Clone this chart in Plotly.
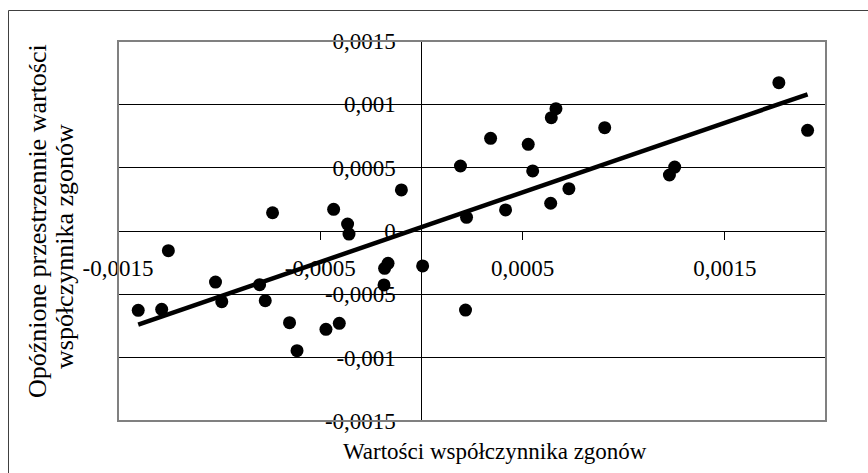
import numpy as np
import plotly.graph_objects as go

# Mortality coefficient values (x) and their spatially lagged values (y)
death_rate = [
    -0.001400, -0.001284, -0.001251, -0.001018, -0.000987, -0.000800,
    -0.000772, -0.000736, -0.000652, -0.000615, -0.000472, -0.000434,
    -0.000406, -0.000365, -0.000358, -0.000185, -0.000182, -0.000165,
    -0.000099, 0.000006, 0.000193, 0.000218, 0.000223, 0.000342,
    0.000416, 0.000528, 0.000550, 0.000639, 0.000642, 0.000665,
    0.000729, 0.000906, 0.001226, 0.001252, 0.001767, 0.001909,
]
lagged_rate = [
    -0.000626, -0.000618, -0.000155, -0.000403, -0.000558, -0.000424,
    -0.000550, 0.000144, -0.000724, -0.000945, -0.000776, 0.000171,
    -0.000729, 0.000055, -0.000024, -0.000426, -0.000295, -0.000255,
    0.000324, -0.000276, 0.000513, -0.000624, 0.000108, 0.000732,
    0.000166, 0.000684, 0.000474, 0.000219, 0.000895, 0.000966,
    0.000334, 0.000816, 0.000442, 0.000505, 0.001171, 0.000795,
]

x_ticks = [-0.0015, -0.0005, 0.0005, 0.0015]
x_tick_labels = ["-0,0015", "-0,0005", "0,0005", "0,0015"]
y_ticks = [-0.0015, -0.001, -0.0005, 0, 0.0005, 0.001, 0.0015]
y_tick_labels = ["-0,0015", "-0,001", "-0,0005", "0", "0,0005", "0,001", "0,0015"]

x_title = "Wartości współczynnika zgonów"
y_title_lines = ["Opóźnione przestrzennie wartości", "współczynnika zgonów"]

X_RANGE = [-0.0015, 0.002]
Y_RANGE = [-0.0015, 0.0015]

W, H = 868, 473
L, R, T, B = 118, 42, 41, 52
PW, PH = W - L - R, H - T - B

FONT = "Liberation Serif, Times New Roman, serif"
FS = 23
FS_YTITLE = 26


def px_x(p):
    return (p - L) / PW


def px_y(p):
    return (H - B - p) / PH


# Least-squares trend line over the data span
xs = np.array(death_rate)
ys = np.array(lagged_rate)
slope, intercept = np.polyfit(xs, ys, 1)
trend_x = [xs.min(), xs.max()]
trend_y = [slope * v + intercept for v in trend_x]

fig = go.Figure()
fig.add_trace(go.Scatter(
    x=death_rate, y=lagged_rate, mode="markers",
    marker=dict(color="black", size=13, line=dict(width=0)),
    showlegend=False, hoverinfo="x+y",
))
fig.add_trace(go.Scatter(
    x=trend_x, y=trend_y, mode="lines",
    line=dict(color="black", width=4.5),
    showlegend=False, hoverinfo="skip",
))

y_axis_pos = (0 - X_RANGE[0]) / (X_RANGE[1] - X_RANGE[0])
x_axis_pos = (0 - Y_RANGE[0]) / (Y_RANGE[1] - Y_RANGE[0])

fig.update_layout(
    width=W, height=H,
    margin=dict(l=L, r=R, t=T, b=B, pad=0),
    paper_bgcolor="white", plot_bgcolor="white",
    font=dict(family=FONT, size=FS, color="black"),
    xaxis=dict(
        range=X_RANGE, tickvals=x_ticks, ticktext=x_tick_labels,
        showgrid=False, zeroline=False,
        showline=True, linecolor="black", linewidth=1,
        ticks="outside", ticklen=8, tickwidth=1, tickcolor="black",
        anchor="free", position=x_axis_pos, ticklabelstandoff=8,
        tickfont=dict(family=FONT, size=FS, color="black"),
    ),
    yaxis=dict(
        range=Y_RANGE, tickvals=y_ticks, ticktext=y_tick_labels,
        showgrid=True, gridcolor="black", gridwidth=1, zeroline=False,
        showline=True, linecolor="black", linewidth=1,
        ticks="outside", ticklen=7, tickwidth=1, tickcolor="black",
        anchor="free", position=y_axis_pos, ticklabelstandoff=14,
        tickfont=dict(family=FONT, size=FS, color="black"),
    ),
    shapes=[
        # plot area frame
        dict(type="rect", xref="paper", yref="paper", x0=0, x1=1, y0=0, y1=1,
             line=dict(color="#808080", width=2), layer="above"),
        # chart area frame
        dict(type="rect", xref="paper", yref="paper",
             x0=px_x(8.5), x1=px_x(880), y0=px_y(490), y1=px_y(10.5),
             line=dict(color="#404040", width=1), layer="below"),
    ],
    annotations=[
        dict(text=x_title, xref="paper", yref="paper",
             x=px_x(495), y=px_y(451), xanchor="center", yanchor="middle",
             showarrow=False, font=dict(family=FONT, size=FS, color="black")),
        dict(text=y_title_lines[0], xref="paper", yref="paper", textangle=-90,
             x=px_x(37), y=px_y(221), xanchor="center", yanchor="middle",
             showarrow=False, font=dict(family=FONT, size=FS_YTITLE, color="black")),
        dict(text=y_title_lines[1], xref="paper", yref="paper", textangle=-90,
             x=px_x(64), y=px_y(247), xanchor="center", yanchor="middle",
             showarrow=False, font=dict(family=FONT, size=FS_YTITLE, color="black")),
    ],
)

fig.write_html("out.html")
